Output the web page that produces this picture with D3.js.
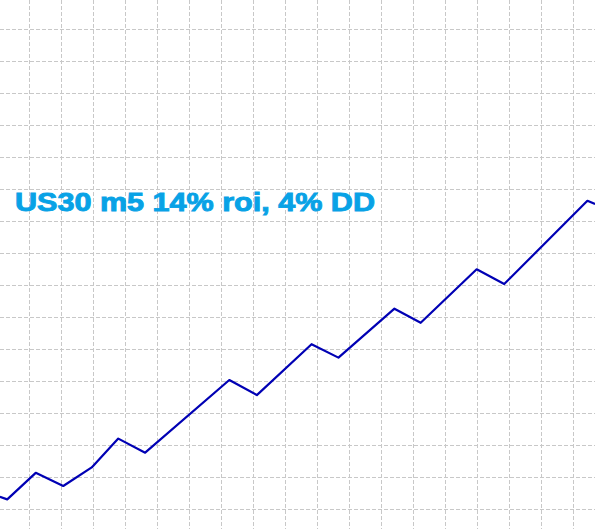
<!DOCTYPE html>
<html>
<head>
<meta charset="utf-8">
<script src="https://d3js.org/d3.v7.min.js"></script>
<style>
  html, body { margin: 0; padding: 0; background: #fff; overflow: hidden; }
</style>
</head>
<body>
<div id="chart"></div>
<script>
// equity curve
var bars = [-9.1, -6.8, 2.1, 10.7, 19.6, 27.9, 36.3, 62.6, 71.2, 88.3, 96.7, 114.2, 122.4, 139.9, 148.5, 174.5, 176.9];
var balance = [10038, 10030, 10113, 10072, 10130, 10220, 10176, 10403, 10356, 10515, 10473, 10626, 10582, 10749, 10703, 10963, 10953];
var xTicks = d3.range(0, 180, 10);
var yTicks = d3.range(10000, 11600, 100);
var title = "US30 m5 14% roi, 4% DD";

var width = 595,
    height = 529;

var svg = d3.select("#chart").append("svg")
    .attr("width", width)
    .attr("height", height);

var x = d3.scaleLinear()
    .domain([-9.0625, 176.875])
    .range([0, width]);

// 10000 sits on pixel 509, each 100 is 32px
var y = d3.scaleLinear()
    .domain([10000 - 20 / 32 * 100, 10000 + 509 / 32 * 100])
    .range([height, 0]);

var grid = svg.append("g").attr("class", "grid");

grid.selectAll("line.v")
  .data(xTicks)
  .enter().append("line")
    .attr("class", "v")
    .attr("x1", function(d) { return Math.round(x(d)) + 0.5; })
    .attr("x2", function(d) { return Math.round(x(d)) + 0.5; })
    .attr("y1", 0)
    .attr("y2", height)
    .attr("stroke", "#c8c8c8")
    .attr("stroke-dasharray", "4,2");

grid.selectAll("line.h")
  .data(yTicks)
  .enter().append("line")
    .attr("class", "h")
    .attr("y1", function(d) { return Math.round(y(d)) + 0.5; })
    .attr("y2", function(d) { return Math.round(y(d)) + 0.5; })
    .attr("x1", 0)
    .attr("x2", width)
    .attr("stroke", "#c8c8c8")
    .attr("stroke-dasharray", "4,2");

var line = d3.line()
    .x(function(d) { return x(d[0]); })
    .y(function(d) { return y(d[1]); });

svg.append("path")
    .datum(d3.zip(bars, balance))
    .attr("d", line)
    .attr("fill", "none")
    .attr("stroke", "#0000b4")
    .attr("stroke-width", 2.2)
    .attr("stroke-linejoin", "round");

// heavy wide title (the original looks like Arial Black)
svg.append("text")
    .attr("x", 15)
    .attr("y", 210.5)
    .attr("font-family", "Liberation Sans, Arial, sans-serif")
    .attr("font-size", "25px")
    .attr("font-weight", "bold")
    .attr("fill", "#08a2e6")
    .attr("stroke", "#08a2e6")
    .attr("stroke-width", 0.9)
    .attr("textLength", 360)
    .attr("lengthAdjust", "spacingAndGlyphs")
    .text(title);
</script>
</body>
</html>
